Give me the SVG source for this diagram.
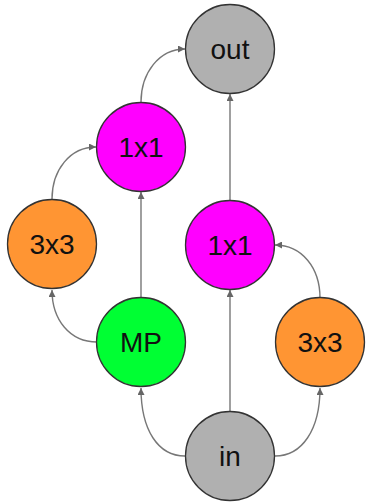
<svg xmlns="http://www.w3.org/2000/svg" width="366" height="503" viewBox="0 0 366 503">
<style>
.n{stroke:#333;stroke-width:1.3}
.t{font-family:"Liberation Sans",Arial,sans-serif;font-size:28px;fill:#111;text-anchor:middle;dominant-baseline:central}
.e{fill:none;stroke:#777;stroke-width:1.4}
</style>
<defs>
<marker id="a" viewBox="0 0 10 10" refX="10" refY="5" markerWidth="7" markerHeight="7" orient="auto" markerUnits="userSpaceOnUse">
<path d="M0,0 L10,5 L0,10 z" fill="#666"/>
</marker>
</defs>
<rect width="366" height="503" fill="#fff"/>
<g id="edges">
<path class="e" d="M185,456 C158,456 141,430 141,388" marker-end="url(#a)"/>
<path class="e" d="M275,456 C302,456 320,430 320,388" marker-end="url(#a)"/>
<path class="e" d="M230,411 L230,290" marker-end="url(#a)"/>
<path class="e" d="M320,298 C320,268 302,245 275,245" marker-end="url(#a)"/>
<path class="e" d="M230,200 L230,94" marker-end="url(#a)"/>
<path class="e" d="M97,342 C70,342 52,320 52,290" marker-end="url(#a)"/>
<path class="e" d="M141,298 L141,192" marker-end="url(#a)"/>
<path class="e" d="M52,199 C52,170 70,147 96,147" marker-end="url(#a)"/>
<path class="e" d="M141,102 C141,73 159,49 185,49" marker-end="url(#a)"/>
</g>
<g id="out"><circle class="n" cx="230" cy="49" r="44.5" fill="#b0b0b0"/><text class="t" x="230" y="49">out</text></g>
<g id="c1x1a"><circle class="n" cx="141" cy="147" r="44.5" fill="#ff00ff"/><text class="t" x="141" y="147">1x1</text></g>
<g id="c3x3a"><circle class="n" cx="52" cy="244" r="44.5" fill="#ff9533"/><text class="t" x="52" y="244">3x3</text></g>
<g id="c1x1b"><circle class="n" cx="230" cy="245" r="44.5" fill="#ff00ff"/><text class="t" x="230" y="245">1x1</text></g>
<g id="mp"><circle class="n" cx="141" cy="342" r="44.5" fill="#00ff33"/><text class="t" x="141" y="342">MP</text></g>
<g id="c3x3b"><circle class="n" cx="320" cy="342" r="44.5" fill="#ff9533"/><text class="t" x="320" y="342">3x3</text></g>
<g id="in"><circle class="n" cx="230" cy="456" r="44.5" fill="#b0b0b0"/><text class="t" x="230" y="456">in</text></g>
</svg>
